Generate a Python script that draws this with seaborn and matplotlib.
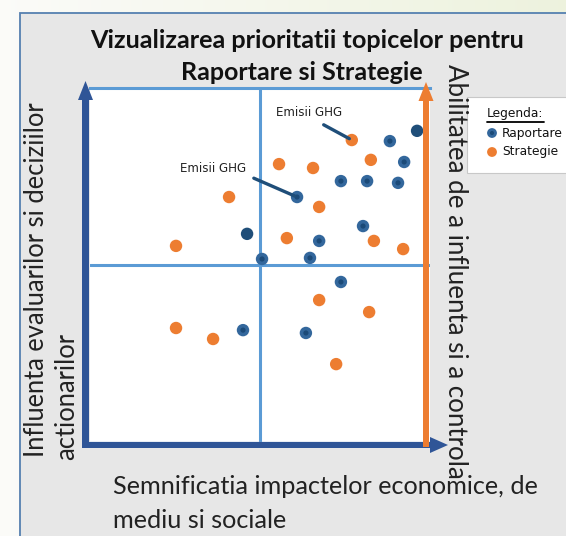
import numpy as np
import pandas as pd
import matplotlib
matplotlib.use("Agg")
import matplotlib.pyplot as plt
import seaborn as sns
from matplotlib.patches import Rectangle, FancyArrow

sns.set_theme(style="white")
plt.rcParams["font.family"] = ["Lato", "DejaVu Sans"]

# ---------------- data ----------------
title_lines = ["Vizualizarea prioritatii topicelor pentru", "Raportare si Strategie"]
x_label_lines = ["Semnificatia impactelor economice, de", "mediu si sociale"]
y_label_lines = ["Influenta evaluarilor si deciziilor", "actionarilor"]
y2_label = "Abilitatea de a influenta si a controla"
legend_title = "Legenda:"
series_names = ["Raportare", "Strategie"]

rap_x = [8.82, 9.24, 7.38, 8.15, 9.06, 6.09, 8.03, 6.74, 5.06, 6.47, 7.38, 4.50, 6.35]
rap_y = [8.50, 7.91, 7.37, 7.37, 7.32, 6.92, 6.10, 5.68, 5.17, 5.20, 4.52, 3.16, 3.08]
rap_dark_x = [9.62, 4.62]
rap_dark_y = [8.79, 5.88]
str_x = [7.70, 8.26, 5.56, 6.56, 4.09, 6.74, 5.79, 8.35, 9.21, 2.53, 6.74, 8.21, 2.53, 3.62, 7.24]
str_y = [8.53, 7.97, 7.85, 7.74, 6.92, 6.64, 5.76, 5.68, 5.45, 5.54, 4.01, 3.67, 3.22, 2.91, 2.20]

ghg_labels = ["Emisii GHG", "Emisii GHG"]
ghg_points = [(str_x[0], str_y[0]), (rap_x[5], rap_y[5])]
ghg_offsets_pt = [(-31, 15), (-60.5, 16)]
ghg_relpos = [(0.57, 0.0), (1.0, 0.0)]

df = pd.DataFrame({
    "x": rap_x + str_x,
    "y": rap_y + str_y,
    "serie": [series_names[0]] * len(rap_x) + [series_names[1]] * len(str_x),
})
df_dark = pd.DataFrame({"x": rap_dark_x, "y": rap_dark_y})

C_ORANGE = "#ed7d31"
C_BLUE_RING = "#33679c"
C_BLUE_CORE = "#1b4a78"
C_BLUE_DARK = "#1f4e79"
C_ARROW = "#2f5597"
C_LINE = "#5b9bd5"

W, H = 566, 536
fig = plt.figure(figsize=(W / 100, H / 100), dpi=100)

# background + gray panel
bg = fig.add_axes([0, 0, 1, 1], zorder=0)
bg.set_xlim(0, W)
bg.set_ylim(H, 0)
bg.axis("off")
c0 = np.array([0.985, 0.985, 0.975])
c1 = np.array([0.93, 0.95, 0.87])
t = np.linspace(0, 1, 64)[None, :, None]
grad = (c0 * (1 - t) + c1 * t)
grad = np.repeat(grad, 2, axis=0)
bg.imshow(grad, extent=(0, W, H, 0), aspect="auto", interpolation="bilinear")
bg.add_patch(Rectangle((20, 13), 560, 540, fc="#e7e7e7", ec="#5580b0", lw=1.3))

# main plot
ax = fig.add_axes([90 / W, 1 - 442 / H, 340 / W, 354 / H], zorder=1)
ax.set_facecolor("white")
ax.set_xlim(0, 10)
ax.set_ylim(0, 10)
ax.set_xticks([])
ax.set_yticks([])
for s in ["left", "right"]:
    ax.spines[s].set_visible(False)
ax.spines["top"].set_color(C_LINE)
ax.spines["top"].set_linewidth(2.2)
ax.spines["bottom"].set_color("#8fa9c9")
ax.spines["bottom"].set_linewidth(1.0)
ax.axvline(5, color=C_LINE, lw=2.2, zorder=1)
ax.axhline(5, color=C_LINE, lw=2.2, zorder=1)

sns.scatterplot(data=df, x="x", y="y", hue="serie",
                palette={series_names[0]: C_BLUE_RING, series_names[1]: C_ORANGE},
                s=80, edgecolor="none", legend=False, ax=ax, zorder=3)
sns.scatterplot(data=df[df["serie"] == series_names[0]], x="x", y="y",
                color=C_BLUE_CORE, s=14, marker="o", edgecolor="none",
                legend=False, ax=ax, zorder=4)
sns.scatterplot(data=df_dark, x="x", y="y", color=C_BLUE_DARK, s=80,
                edgecolor="none", legend=False, ax=ax, zorder=3)
ax.set_xlabel("")
ax.set_ylabel("")

for lab, pt, off, rp in zip(ghg_labels, ghg_points, ghg_offsets_pt, ghg_relpos):
    ax.annotate(lab, xy=pt, xytext=off, textcoords="offset points",
                ha="center", va="bottom", fontsize=8.6, color="#222222",
                family="DejaVu Sans",
                arrowprops=dict(arrowstyle="-", color=C_BLUE_DARK, lw=2.4,
                                shrinkA=3.5, shrinkB=2, relpos=rp),
                zorder=5)

# overlay: arrows, texts, legend
ov = fig.add_axes([0, 0, 1, 1], zorder=2)
ov.patch.set_alpha(0)
ov.set_xlim(0, W)
ov.set_ylim(H, 0)
ov.axis("off")

ov.add_patch(FancyArrow(85.5, 448, 0, -367, width=7, head_width=15, head_length=19,
                        length_includes_head=True, color=C_ARROW, lw=0))
ov.add_patch(FancyArrow(82, 445, 366, 0, width=6, head_width=16, head_length=18,
                        length_includes_head=True, color=C_ARROW, lw=0))
ov.add_patch(FancyArrow(426, 447, 0, -365, width=6, head_width=15, head_length=19,
                        length_includes_head=True, color=C_ORANGE, lw=0))

ov.text(307, 40, title_lines[0], ha="center", va="center", fontsize=18.2,
        fontweight="bold", color="#111111")
ov.text(302, 72, title_lines[1], ha="center", va="center", fontsize=18.0,
        fontweight="bold", color="#111111")

ov.text(37, 457, y_label_lines[0], rotation=90, ha="center", va="bottom",
        fontsize=18.4, color="#222222")
ov.text(67, 460, y_label_lines[1], rotation=90, ha="center", va="bottom",
        fontsize=18.4, color="#222222")

ov.text(455, 64, y2_label, rotation=-90, ha="center", va="top",
        fontsize=18.6, color="#222222")

ov.text(113, 487, x_label_lines[0], ha="left", va="center", fontsize=18.2, color="#222222")
ov.text(113, 520, x_label_lines[1], ha="left", va="center", fontsize=18.2, color="#222222")

# legend box
ov.add_patch(Rectangle((467, 97), 110, 76, fc="white", ec="#c8c8c8", lw=0.8))
ov.text(487, 113, legend_title, ha="left", va="center", fontsize=8.8, color="#111111",
        family="DejaVu Sans")
ov.plot([487, 544], [122, 122], color="black", lw=1.3)
ov.scatter([492], [133], s=50, color=C_BLUE_RING, edgecolor="none")
ov.scatter([492], [133], s=9, color=C_BLUE_CORE, edgecolor="none")
ov.scatter([492], [152], s=50, color=C_ORANGE, edgecolor="none")
ov.text(502, 133, series_names[0], ha="left", va="center", fontsize=8.8, color="#111111",
        family="DejaVu Sans")
ov.text(502, 152, series_names[1], ha="left", va="center", fontsize=8.8, color="#111111",
        family="DejaVu Sans")

fig.savefig("out.png", dpi=100)
